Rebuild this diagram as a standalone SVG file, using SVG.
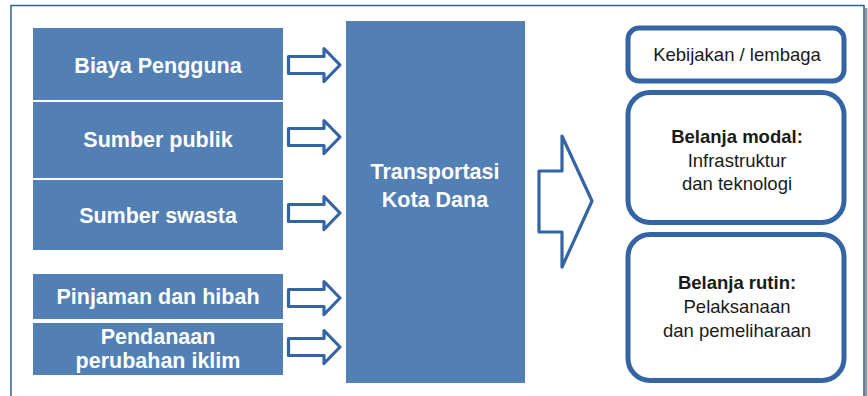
<svg xmlns="http://www.w3.org/2000/svg" width="868" height="396" viewBox="0 0 868 396">
<style>
.src{fill:#5280B4}
.lt{font-family:"Liberation Sans",Arial,sans-serif;font-weight:bold;font-size:21.5px;fill:#fff;text-anchor:middle}
.arr{fill:#fff;stroke:#3464A3;stroke-width:3.2;stroke-linejoin:round}
.rb{fill:#fff;stroke:#3464A3;stroke-width:5}
.rt{font-family:"Liberation Sans",Arial,sans-serif;font-size:18.5px;fill:#1a1a1a;text-anchor:middle}
.rt .b{font-weight:bold}
</style>
<rect width="868" height="396" fill="#fff"/>
<rect x="864.5" y="8" width="3" height="388" fill="#9a9a9a"/>
<path d="M11 396 V5.5 H864" fill="none" stroke="#2F5F99" stroke-width="1.5"/>
<path d="M864 5 V396" fill="none" stroke="#2F5F99" stroke-width="1.5"/>

<g id="biaya-pengguna"><rect class="src" x="33" y="28" width="250" height="72"/><text class="lt" x="158" y="73">Biaya Pengguna</text></g>
<g id="sumber-publik"><rect class="src" x="33" y="102" width="250" height="76"/><text class="lt" x="158" y="147">Sumber publik</text></g>
<g id="sumber-swasta"><rect class="src" x="33" y="180" width="250" height="70"/><text class="lt" x="158" y="223">Sumber swasta</text></g>
<g id="pinjaman"><rect class="src" x="33" y="274" width="250" height="45"/><text class="lt" x="158" y="304">Pinjaman dan hibah</text></g>
<g id="pendanaan"><rect class="src" x="33" y="323" width="250" height="52"/><text class="lt" x="158" y="344">Pendanaan</text><text class="lt" x="158" y="368">perubahan iklim</text></g>

<g id="transportasi"><rect class="src" x="346" y="21" width="179" height="362"/><text class="lt" x="435" y="179">Transportasi</text><text class="lt" x="435" y="207">Kota Dana</text></g>

<g id="kebijakan"><rect class="rb" x="628" y="28" width="216" height="53" rx="11"/><text class="rt" x="737" y="61">Kebijakan / lembaga</text></g>
<g id="belanja-modal"><rect class="rb" x="628" y="92.5" width="216" height="130" rx="22"/><text class="rt" x="737" y="143"><tspan class="b">Belanja modal:</tspan><tspan x="737" y="167">Infrastruktur</tspan><tspan x="737" y="190">dan teknologi</tspan></text></g>
<g id="belanja-rutin"><rect class="rb" x="628" y="234.5" width="216" height="146" rx="22"/><text class="rt" x="737" y="289"><tspan class="b">Belanja rutin:</tspan><tspan x="737" y="313">Pelaksanaan</tspan><tspan x="737" y="337">dan pemeliharaan</tspan></text></g>

<g id="connectors">
<path id="a1" class="arr" d="M288.5 56.5 H324 V48.5 L340 65 L324 81.5 V73.5 H288.5 Z"/>
<path id="a2" class="arr" transform="translate(0,72)" d="M288.5 56.5 H324 V48.5 L340 65 L324 81.5 V73.5 H288.5 Z"/>
<path id="a3" class="arr" transform="translate(0,148)" d="M288.5 56.5 H324 V48.5 L340 65 L324 81.5 V73.5 H288.5 Z"/>
<path id="a4" class="arr" transform="translate(0,233)" d="M288.5 56.5 H324 V48.5 L340 65 L324 81.5 V73.5 H288.5 Z"/>
<path id="a5" class="arr" transform="translate(0,282)" d="M288.5 56.5 H324 V48.5 L340 65 L324 81.5 V73.5 H288.5 Z"/>
<path id="big" class="arr" stroke-width="4" d="M539 171 H562 V136 L592 201 L562 267 V232 H539 Z"/>
</g>
</svg>
